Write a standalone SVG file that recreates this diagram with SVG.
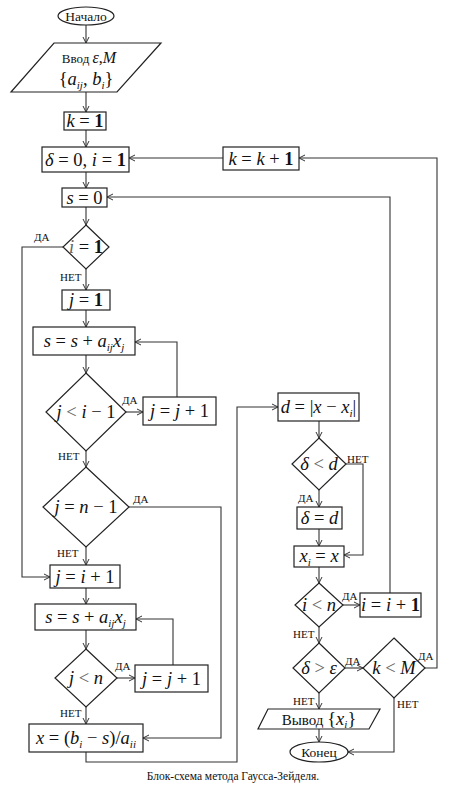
<svg xmlns="http://www.w3.org/2000/svg" width="460" height="790" viewBox="0 0 460 790">
<style>
.bx{fill:#fff;stroke:#222;stroke-width:1.2}
.ln{fill:none;stroke:#333;stroke-width:1.1}
.m{font-family:"Liberation Serif","DejaVu Serif",serif;font-size:18.5px;fill:#111;text-anchor:middle}
.i{font-style:italic}
.s{font-size:11px}
.lb{font-family:"Liberation Serif","DejaVu Serif",serif;font-size:11px;fill:#111}
.t{font-family:"Liberation Serif","DejaVu Serif",serif;font-size:13.5px;fill:#111;text-anchor:middle}
.g{fill:#666}
</style>
<defs>
<marker id="a" markerWidth="8" markerHeight="8" refX="7" refY="4" orient="auto" markerUnits="userSpaceOnUse">
<path d="M1,1 L7,4 L1,7" fill="none" stroke="#333" stroke-width="1"/>
</marker>
</defs>
<rect width="460" height="790" fill="#fff"/>

<g id="connectors" class="ln">
<path d="M86,25 V43" marker-end="url(#a)"/>
<path d="M86,92 V112" marker-end="url(#a)"/>
<path d="M86,130 V147" marker-end="url(#a)"/>
<path d="M86,172 V188" marker-end="url(#a)"/>
<path d="M86,207 V225" marker-end="url(#a)"/>
<path d="M63,247 H22 V577 H50" marker-end="url(#a)"/>
<path d="M86,269 V290" marker-end="url(#a)"/>
<path d="M86,310 V327" marker-end="url(#a)"/>
<path d="M86,355 V373" marker-end="url(#a)"/>
<path d="M126,412 H143" marker-end="url(#a)"/>
<path d="M177,397 V342 H135" marker-end="url(#a)"/>
<path d="M86,451 V467" marker-end="url(#a)"/>
<path d="M129,507 H221 V738 H143" marker-end="url(#a)"/>
<path d="M86,547 V565" marker-end="url(#a)"/>
<path d="M86,588 V604" marker-end="url(#a)"/>
<path d="M86,630 V649" marker-end="url(#a)"/>
<path d="M117,678 H135" marker-end="url(#a)"/>
<path d="M173,665 V619 H136" marker-end="url(#a)"/>
<path d="M86,707 V724" marker-end="url(#a)"/>
<path d="M86,752 V762 H237 V407 H278" marker-end="url(#a)"/>
<path d="M319,421 V438" marker-end="url(#a)"/>
<path d="M346,464 H363 V555 H344" marker-end="url(#a)"/>
<path d="M319,490 V507" marker-end="url(#a)"/>
<path d="M319,529 V546" marker-end="url(#a)"/>
<path d="M319,567 V583" marker-end="url(#a)"/>
<path d="M343,605 H360" marker-end="url(#a)"/>
<path d="M390,593 V197 H107" marker-end="url(#a)"/>
<path d="M319,627 V643" marker-end="url(#a)"/>
<path d="M345,668 H363" marker-end="url(#a)"/>
<path d="M425,668 H437 V158 H299" marker-end="url(#a)"/>
<path d="M223,158 H129" marker-end="url(#a)"/>
<path d="M319,693 V709" marker-end="url(#a)"/>
<path d="M319,729 V742" marker-end="url(#a)"/>
<path d="M394,698 V752 H348" marker-end="url(#a)"/>
</g>

<g id="labels">
<text class="lb" x="34" y="241">ДА</text>
<text class="lb" x="60" y="281">НЕТ</text>
<text class="lb" x="122" y="404">ДА</text>
<text class="lb" x="58" y="460">НЕТ</text>
<text class="lb" x="133" y="503">ДА</text>
<text class="lb" x="57" y="557">НЕТ</text>
<text class="lb" x="115" y="670">ДА</text>
<text class="lb" x="60" y="717">НЕТ</text>
<text class="lb" x="347" y="463">НЕТ</text>
<text class="lb" x="298" y="502">ДА</text>
<text class="lb" x="342" y="600">ДА</text>
<text class="lb" x="293" y="638">НЕТ</text>
<text class="lb" x="345" y="665">ДА</text>
<text class="lb" x="418" y="660">ДА</text>
<text class="lb" x="293" y="705">НЕТ</text>
<text class="lb" x="397" y="708">НЕТ</text>
</g>

<g id="start">
<ellipse cx="86" cy="16" rx="28" ry="9" class="bx"/>
<text class="t" x="86" y="20.5">Начало</text>
</g>

<g id="input">
<polygon points="54,43 161,43 117,92 11,92" class="bx"/>
<text class="m" x="89" y="63"><tspan font-size="13">Ввод </tspan><tspan class="i" font-size="16">ε</tspan><tspan font-size="16">,</tspan><tspan class="i" font-size="16">M</tspan></text>
<text class="m" x="86" y="85" font-size="21"><tspan>{</tspan><tspan class="i">a</tspan><tspan class="i s" dy="4">ij</tspan><tspan dy="-4">, </tspan><tspan class="i">b</tspan><tspan class="i s" dy="4">i</tspan><tspan dy="-4">}</tspan></text>
</g>

<g id="k1">
<rect x="64" y="112" width="42" height="18" class="bx"/>
<text class="m" x="85" y="127"><tspan class="i">k</tspan> = <tspan font-weight="bold">1</tspan></text>
</g>

<g id="delta0">
<rect x="42" y="147" width="87" height="25" class="bx"/>
<text class="m" x="85.5" y="166" font-size="19"><tspan class="i">δ</tspan> = 0, <tspan class="i">i</tspan> = <tspan font-weight="bold">1</tspan></text>
</g>

<g id="kinc">
<rect x="223" y="147" width="76" height="23" class="bx"/>
<text class="m" x="261" y="165"><tspan class="i">k</tspan> = <tspan class="i">k</tspan> + <tspan font-weight="bold">1</tspan></text>
</g>

<g id="s0">
<rect x="62" y="188" width="45" height="19" class="bx"/>
<text class="m" x="84.5" y="203.5"><tspan class="i">s</tspan> = 0</text>
</g>

<g id="i_eq_1">
<polygon points="86,225 109,247 86,269 63,247" class="bx"/>
<text class="m" x="86" y="253"><tspan class="i g">i</tspan> = <tspan font-weight="bold">1</tspan></text>
</g>

<g id="j1">
<rect x="62" y="290" width="48" height="20" class="bx"/>
<text class="m" x="86" y="306"><tspan class="i">j</tspan> = <tspan font-weight="bold">1</tspan></text>
</g>

<g id="sum1">
<rect x="33" y="327" width="102" height="28" class="bx"/>
<text class="m" x="84" y="347" font-size="19.5"><tspan class="i">s</tspan> = <tspan class="i">s</tspan> + <tspan class="i">a</tspan><tspan class="i s" dy="4">ij</tspan><tspan class="i" dy="-4">x</tspan><tspan class="i s" dy="4">j</tspan></text>
</g>

<g id="j_lt_i1">
<polygon points="86,373 126,412 86,451 46,412" class="bx"/>
<text class="m" x="86" y="418" font-size="19.5"><tspan class="i">j</tspan> <tspan class="g">&lt;</tspan> <tspan class="i">i</tspan> − 1</text>
</g>

<g id="jinc1">
<rect x="143" y="397" width="73" height="28" class="bx"/>
<text class="m" x="179.5" y="417" font-size="19.5"><tspan class="i">j</tspan> = <tspan class="i">j</tspan> + 1</text>
</g>

<g id="j_eq_n1">
<polygon points="86,467 129,507 86,547 43,507" class="bx"/>
<text class="m" x="86" y="513" font-size="19.5"><tspan class="i">j</tspan> = <tspan class="i">n</tspan> − 1</text>
</g>

<g id="j_i1">
<rect x="50" y="565" width="70" height="23" class="bx"/>
<text class="m" x="85" y="582.5" font-size="19"><tspan class="i">j</tspan> = <tspan class="i">i</tspan> + 1</text>
</g>

<g id="sum2">
<rect x="35" y="604" width="101" height="26" class="bx"/>
<text class="m" x="85.5" y="623" font-size="19.5"><tspan class="i">s</tspan> = <tspan class="i">s</tspan> + <tspan class="i">a</tspan><tspan class="i s" dy="4">ij</tspan><tspan class="i" dy="-4">x</tspan><tspan class="i s" dy="4">j</tspan></text>
</g>

<g id="j_lt_n">
<polygon points="86,649 117,678 86,707 55,678" class="bx"/>
<text class="m" x="86" y="684" font-size="19.5"><tspan class="i">j</tspan> <tspan class="g">&lt;</tspan> <tspan class="i">n</tspan></text>
</g>

<g id="jinc2">
<rect x="135" y="665" width="73" height="27" class="bx"/>
<text class="m" x="171.5" y="684.5" font-size="19.5"><tspan class="i">j</tspan> = <tspan class="i">j</tspan> + 1</text>
</g>

<g id="xcalc">
<rect x="29" y="724" width="114" height="28" class="bx"/>
<text class="m" x="86" y="744" font-size="19.5"><tspan class="i">x</tspan> = (<tspan class="i">b</tspan><tspan class="i s" dy="4">i</tspan><tspan dy="-4"> − </tspan><tspan class="i">s</tspan>)/<tspan class="i">a</tspan><tspan class="i s" dy="4">ii</tspan></text>
</g>

<g id="dcalc">
<rect x="278" y="393" width="81" height="28" class="bx"/>
<text class="m" x="318.5" y="413" font-size="19.5"><tspan class="i">d</tspan> = |<tspan class="i">x</tspan> − <tspan class="i">x</tspan><tspan class="i s" dy="4">i</tspan><tspan dy="-4">|</tspan></text>
</g>

<g id="delta_lt_d">
<polygon points="319,438 346,464 319,490 292,464" class="bx"/>
<text class="m" x="319" y="470"><tspan class="i">δ</tspan> <tspan class="g">&lt;</tspan> <tspan class="i">d</tspan></text>
</g>

<g id="delta_d">
<rect x="297" y="507" width="45" height="22" class="bx"/>
<text class="m" x="319.5" y="524"><tspan class="i">δ</tspan> = <tspan class="i">d</tspan></text>
</g>

<g id="xi_x">
<rect x="294" y="546" width="50" height="21" class="bx"/>
<text class="m" x="319" y="562"><tspan class="i">x</tspan><tspan class="i s" dy="4">i</tspan><tspan dy="-4"> = </tspan><tspan class="i">x</tspan></text>
</g>

<g id="i_lt_n">
<polygon points="319,583 343,605 319,627 295,605" class="bx"/>
<text class="m" x="319" y="611"><tspan class="i">i</tspan> <tspan class="g">&lt;</tspan> <tspan class="i">n</tspan></text>
</g>

<g id="iinc">
<rect x="360" y="593" width="61" height="24" class="bx"/>
<text class="m" x="390.5" y="611"><tspan class="i">i</tspan> = <tspan class="i">i</tspan> + <tspan font-weight="bold">1</tspan></text>
</g>

<g id="delta_gt_eps">
<polygon points="319,643 345,668 319,693 293,668" class="bx"/>
<text class="m" x="319" y="674"><tspan class="i">δ</tspan> <tspan class="g">&gt;</tspan> <tspan class="i">ε</tspan></text>
</g>

<g id="k_lt_M">
<polygon points="394,638 425,668 394,698 363,668" class="bx"/>
<text class="m" x="394" y="674"><tspan class="i">k</tspan> <tspan class="g">&lt;</tspan> <tspan class="i">M</tspan></text>
</g>

<g id="output">
<polygon points="268,709 380,709 369,729 258,729" class="bx"/>
<text class="m" x="319" y="724.5" font-size="16.5"><tspan font-size="15">Вывод </tspan>{<tspan class="i">x</tspan><tspan class="i s" dy="3">i</tspan><tspan dy="-3">}</tspan></text>
</g>

<g id="end">
<ellipse cx="319" cy="752" rx="29" ry="10" class="bx"/>
<text class="t" x="319" y="757" font-size="15">Конец</text>
</g>

<text x="233" y="780" font-family="Liberation Serif, DejaVu Serif, serif" font-size="11.5" text-anchor="middle" fill="#111">Блок-схема метода Гаусса-Зейделя.</text>
</svg>
